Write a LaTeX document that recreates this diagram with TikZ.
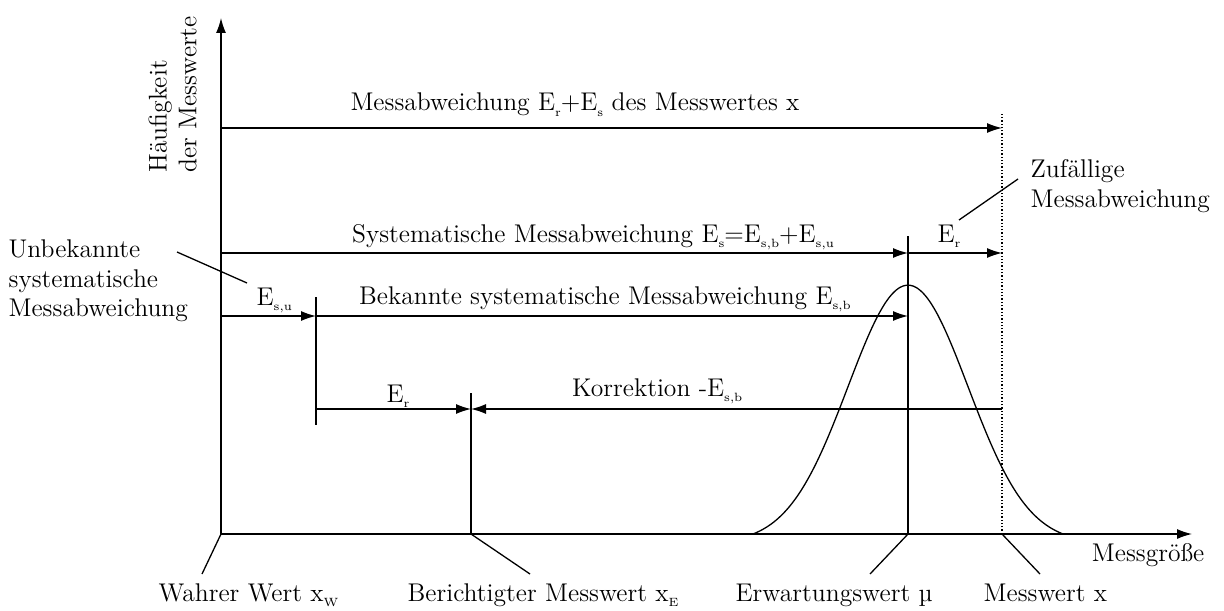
\documentclass[tikz,border=0pt]{standalone}
\usetikzlibrary{arrows.meta}

\newcommand{\lowidx}[1]{\raisebox{-0.5ex}{\fontsize{6pt}{6pt}\selectfont #1}}

\begin{document}
\begin{tikzpicture}[
  x=0.5pt,
  y=-0.5pt,
  font=\fontsize{12.8pt}{14.8pt}\selectfont,
  line width=0.65pt,
  tip/.style={-{Latex[length=7.5pt,width=5pt]}},
  lbl/.style={inner sep=0pt},
  note/.style={align=left, inner sep=0pt}
]

% White background
\fill[white] (0,0) rectangle (1224,610);
\useasboundingbox (0,0) rectangle (1224,610);

% Points on the axes
\coordinate (O) at (221,534);
\coordinate (xtip) at (1192,534);
\coordinate (ytip) at (221,18);
\coordinate (xE) at (471,534);
\coordinate (mu) at (908,534);
\coordinate (xm) at (1002,534);

% Axes
\draw[tip] (O) -- (xtip);
\draw[tip] (O) -- (ytip);
\node[lbl, anchor=base east] (xlabel) at (1205,561) {Messgröße};
\node[note, rotate=90, anchor=north west] (ylabel) at (148,173) {Häufigkeit\\der Messwerte};

% Vertical markers
\coordinate (mutop) at (908,236);
\coordinate (xmtop) at (1002,113);
\coordinate (xEtop) at (471,393);
\coordinate (sutop) at (316,297);
\coordinate (subot) at (316,425);
\draw (mu) -- (mutop);
\draw[densely dotted] (xm) -- (xmtop);
\draw (xE) -- (xEtop);
\draw (sutop) -- (subot);

% Distribution of the measured values
\draw plot[domain=753:1063, samples=90, smooth] (\x, {534-258*(exp(-0.5*((\x-908)/60)^2)-0.0355)});

% Error arrows, row by row
\coordinate (r1a) at (221,128); \coordinate (r1b) at (1002,128);
\coordinate (r2a) at (221,253); \coordinate (r2b) at (908,253); \coordinate (r2c) at (1002,253);
\coordinate (r3a) at (221,316); \coordinate (r3b) at (316,316); \coordinate (r3c) at (908,316);
\coordinate (r4a) at (316,409); \coordinate (r4b) at (471,409); \coordinate (r4c) at (1002,409);

\draw[tip] (r1a) -- (r1b);
\draw[tip] (r2a) -- (r2b);
\draw[tip] (r2b) -- (r2c);
\draw[tip] (r3a) -- (r3b);
\draw[tip] (r3b) -- (r3c);
\draw[tip] (r4a) -- (r4b);
\draw[tip] (r4c) -- (r4b);

% Arrow labels
\node[lbl, anchor=base] (eges) at (575,111) {Messabweichung E\lowidx{r}+E\lowidx{s} des Messwertes x};
\node[lbl, anchor=base] (esys) at (593,242) {Systematische Messabweichung E\lowidx{s}=E\lowidx{s,b}+E\lowidx{s,u}};
\node[lbl, anchor=base west] (er1) at (937,242) {E\lowidx{r}};
\node[lbl, anchor=base west] (esu) at (256,305) {E\lowidx{s,u}};
\node[lbl, anchor=base] (esb) at (605,304) {Bekannte systematische Messabweichung E\lowidx{s,b}};
\node[lbl, anchor=base west] (er2) at (386,402) {E\lowidx{r}};
\node[lbl, anchor=base east] (korr) at (743,396) {Korrektion -E\lowidx{s,b}};

% Notes with leader lines
\node[note, anchor=north west] (unbek) at (8,239) {Unbekannte\\systematische\\Messabweichung};
\node[note, anchor=north west] (zuf) at (1030,159) {Zufällige\\Messabweichung};
\coordinate (unbek a) at (177,252); \coordinate (unbek b) at (247,283);
\draw (unbek a) -- (unbek b);
\coordinate (zuf a) at (1018,179); \coordinate (zuf b) at (959,220);
\draw (zuf a) -- (zuf b);

% Values on the x axis
\foreach \nm/\ex/\lx/\txt in {O/202/158/{Wahrer Wert x\lowidx{W}}, xE/530/407/{Berichtigter Messwert x\lowidx{E}}, mu/870/735/{Erwartungswert µ}, xm/1040/983/{Messwert x}} {
  \coordinate (\nm end) at (\ex,574);
  \draw (\nm) -- (\nm end);
  \node[lbl, anchor=base west] (\nm label) at (\lx,601) {\txt};
}

\end{tikzpicture}
\end{document}
